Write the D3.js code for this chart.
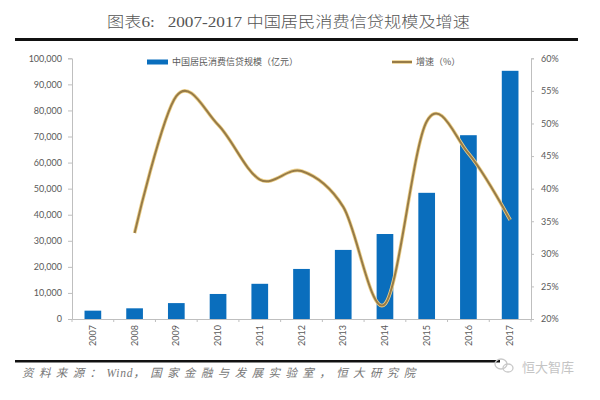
<!DOCTYPE html>
<html><head><meta charset="utf-8">
<script src="https://cdn.jsdelivr.net/npm/d3@7"></script>
<style>body{margin:0;background:#fff}svg{display:block}text{white-space:pre}</style>
</head><body>
<svg id="c" width="600" height="400"></svg>
<script>
const years = ["2007","2008","2009","2010","2011","2012","2013","2014","2015","2016","2017"];
const loanScale = [3200, 4100, 6100, 9600, 13500, 19200, 26500, 32600, 48400, 70500, 95200];
const growthRate = [null, 33.2, 54.2, 49.8, 41.4, 42.7, 37.2, 22.3, 50.3, 45.4, 35.2];
const leftTicks = [0,10000,20000,30000,40000,50000,60000,70000,80000,90000,100000];
const rightTicks = [20,25,30,35,40,45,50,55,60];
const titleText = "图表6:   2007-2017 中国居民消费信贷规模及增速";
const sourceParts = ["资料来源：", "Wind", "，国家金融与发展实验室，恒大研究院"];
const legendBar = "中国居民消费信贷规模（亿元）";
const legendLine = "增速（%）";

const svg = d3.select("#c");
const L = 72, R = 531, T = 58.3, B = 319;
const x = d3.scaleBand().domain(years).range([L, R]).paddingInner(0.6).paddingOuter(0.3);
const yL = d3.scaleLinear().domain([0, 100000]).range([B, T]);
const yR = d3.scaleLinear().domain([20, 60]).range([B, T]);
const axisCol = "#bfbfbf", txtCol = "#595959";
const numFont = "Lato, 'Open Sans', sans-serif";

// title
svg.append("text").attr("x", 107).attr("y", 27).attr("textLength", 363).attr("lengthAdjust","spacingAndGlyphs")
  .attr("font-family","'Liberation Serif','Noto Sans CJK SC',serif").attr("font-size",14.5).attr("font-weight",300).attr("fill","#555")
  .text(titleText);
svg.append("rect").attr("x",15).attr("y",38).attr("width",563).attr("height",3).attr("fill","#111");

// bars
svg.append("g").selectAll("rect").data(loanScale).join("rect")
  .attr("x",(d,i)=>x(years[i])).attr("width",x.bandwidth())
  .attr("y",d=>yL(d)).attr("height",d=>B-yL(d)).attr("fill","#0A6EBD");

// left axis
const gl = svg.append("g").attr("transform",`translate(${L},0)`)
  .call(d3.axisLeft(yL).tickValues(leftTicks).tickSize(4).tickPadding(6).tickFormat(d3.format(",")));
gl.selectAll("path,line").attr("stroke",axisCol);
gl.selectAll("text").attr("fill",txtCol).attr("font-family",numFont).attr("font-size",9);

// right axis
const gr = svg.append("g").attr("transform",`translate(${R},0)`)
  .call(d3.axisRight(yR).tickValues(rightTicks).tickSize(3).tickPadding(7).tickFormat(d=>d+"%"));
gr.selectAll("path,line").attr("stroke",axisCol);
gr.selectAll("text").attr("fill",txtCol).attr("font-family",numFont).attr("font-size",9);

// x axis
const gx = svg.append("g").attr("transform",`translate(0,${B})`)
  .call(d3.axisBottom(x).tickSize(0).tickPadding(6));
gx.select("path").attr("stroke",axisCol);
gx.selectAll("text").attr("fill",txtCol).attr("font-family",numFont).attr("font-size",9)
  .attr("transform","rotate(-90)").attr("text-anchor","end").attr("dy","0.35em")
  .attr("x",-6).attr("y",0);
const step = x.step();
svg.append("g").selectAll("line").data(d3.range(years.length+1)).join("line")
  .attr("x1",i=>L+i*step).attr("x2",i=>L+i*step).attr("y1",B).attr("y2",B+3).attr("stroke",axisCol);

// growth line
const pts = growthRate.map((v,i)=>[v,i]).filter(d=>d[0]!=null);
const line = d3.line().x(d=>x(years[d[1]])+x.bandwidth()/2).y(d=>yR(d[0])).curve(d3.curveCatmullRom.alpha(0));
svg.append("path").attr("d",line(pts)).attr("fill","none").attr("stroke","#EDD08A").attr("stroke-width",3.6);
svg.append("path").attr("d",line(pts)).attr("fill","none").attr("stroke","#977B47").attr("stroke-width",2);

// legend
svg.append("rect").attr("x",147).attr("y",59.5).attr("width",21).attr("height",5).attr("fill","#0A6EBD");
svg.append("text").attr("x",172).attr("y",65).attr("font-family","'Noto Sans CJK SC',sans-serif").attr("font-size",9)
  .attr("fill",txtCol).text(legendBar);
svg.append("line").attr("x1",392).attr("x2",412).attr("y1",62).attr("y2",62).attr("stroke","#EDD08A").attr("stroke-width",3.6);
svg.append("line").attr("x1",392).attr("x2",412).attr("y1",62).attr("y2",62).attr("stroke","#977B47").attr("stroke-width",2);
svg.append("text").attr("x",416).attr("y",65).attr("font-family","'Noto Sans CJK SC',sans-serif").attr("font-size",9)
  .attr("fill",txtCol).text(legendLine);

// footer
svg.append("rect").attr("x",15).attr("y",360).attr("width",485).attr("height",2.5).attr("fill","#111");
const src = svg.append("text").attr("x",22).attr("y",377)
  .attr("font-family","'Liberation Serif','Noto Sans CJK SC',serif").attr("font-size",11.5).attr("font-style","italic")
  .attr("fill","#777");
src.selectAll("tspan").data(sourceParts).join("tspan")
  .attr("letter-spacing",(d,i)=>i===1?0.8:5.4).text(d=>d);
// watermark
const wm = svg.append("g").attr("fill","none").attr("stroke","#c8c8c8").attr("stroke-width",1.3);
wm.append("ellipse").attr("cx",501).attr("cy",364).attr("rx",6).attr("ry",5);
wm.append("ellipse").attr("cx",508).attr("cy",368).attr("rx",5).attr("ry",4);
svg.append("text").attr("x",522).attr("y",372).attr("font-family","'Noto Sans CJK SC',sans-serif").attr("font-size",13)
  .attr("fill","#c4c4c4").text("恒大智库");
</script>
</body></html>
